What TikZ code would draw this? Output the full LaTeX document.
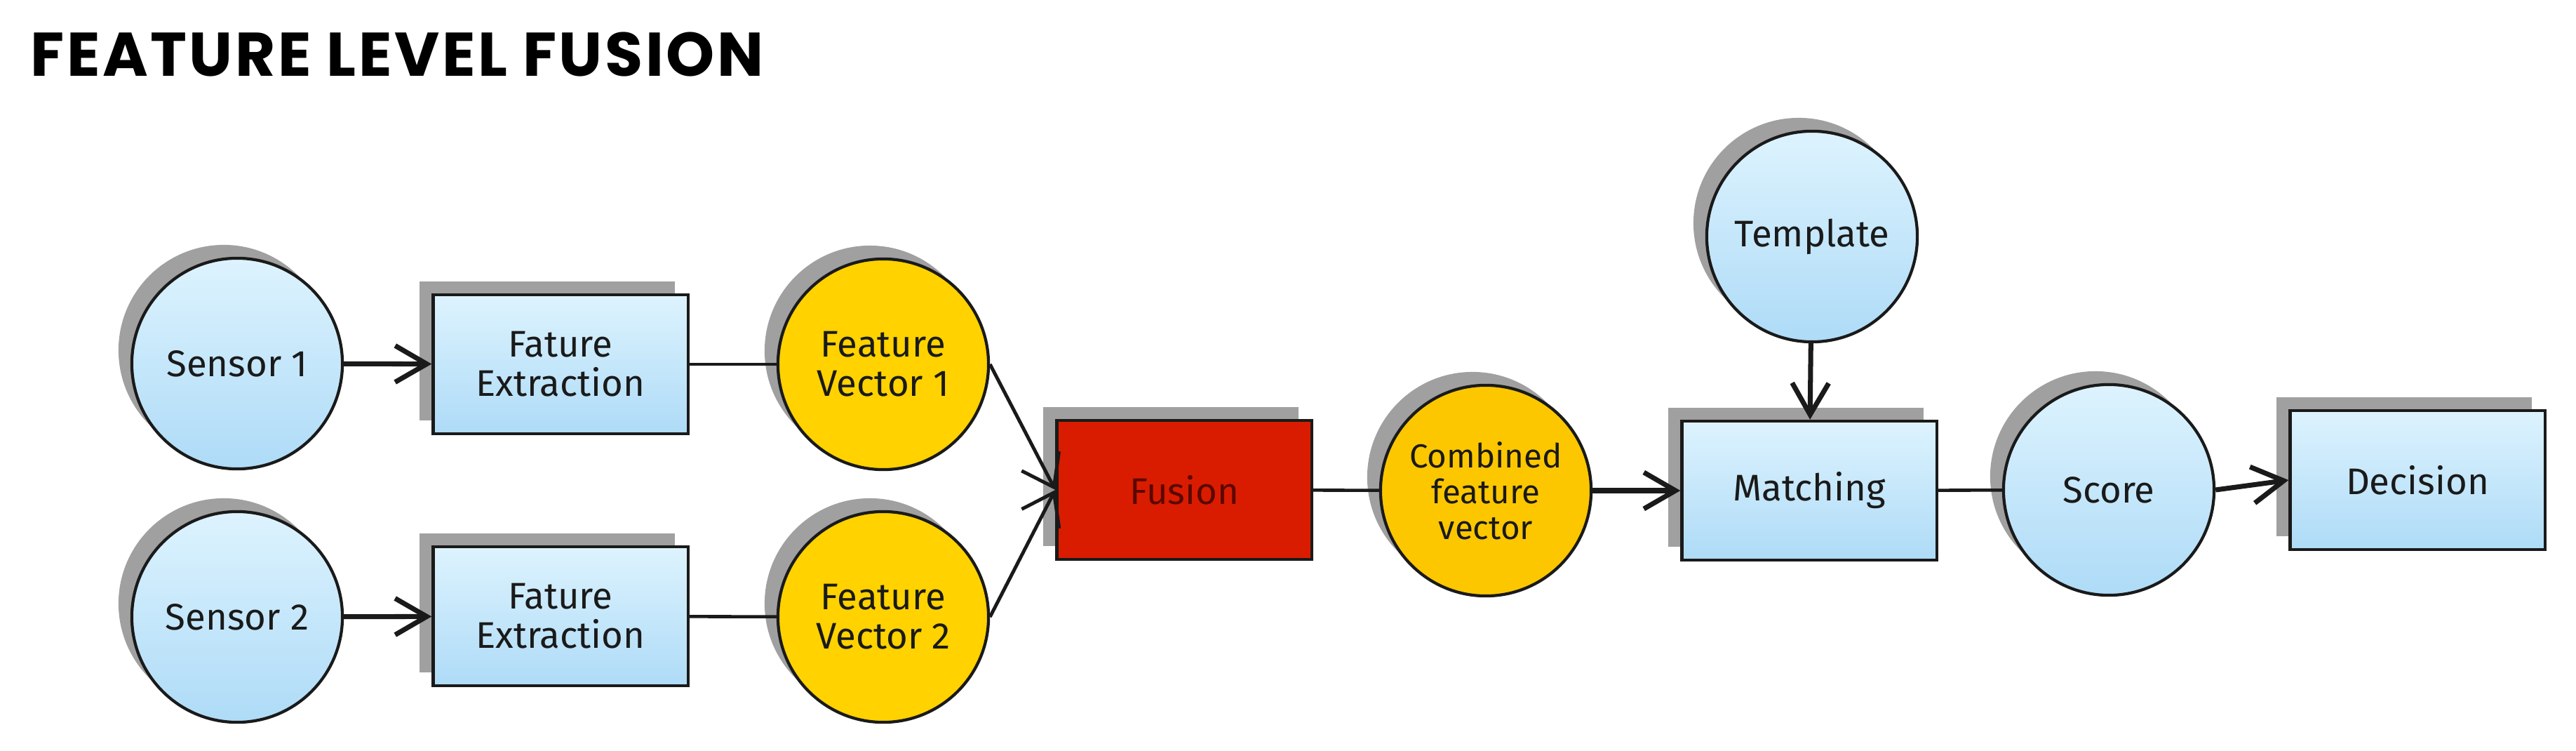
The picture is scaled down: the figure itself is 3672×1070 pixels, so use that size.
\documentclass[tikz,border=0pt]{standalone}
\usepackage{fontspec}
\setmainfont{Fira Sans}
\newfontfamily\titlefont{Poppins}[LetterSpace=4]
\usetikzlibrary{shadows,arrows.meta}
\definecolor{skytop}{HTML}{DDF3FE}
\definecolor{skybot}{HTML}{AEDBF7}
\definecolor{vecyellow}{HTML}{FFD200}
\definecolor{combyellow}{HTML}{FDC700}
\definecolor{fusred}{HTML}{D91C00}
\definecolor{fustext}{HTML}{5A0800}
\definecolor{shadowgray}{HTML}{A0A0A0}
\definecolor{ink}{HTML}{1A1A1A}

\begin{document}
\begin{tikzpicture}[x=0.01cm,y=-0.01cm,
  every node/.style={font=\fontsize{15}{16}\selectfont, align=center, text=ink},
  shadowed/.style={drop shadow={shadow xshift=-0.19cm, shadow yshift=0.19cm,
      fill=shadowgray, opacity=1}},
  disc/.style={circle, draw=ink, line width=1.2pt, minimum size=3cm, inner sep=0pt, shadowed},
  skydisc/.style={disc, top color=skytop, bottom color=skybot},
  vecdisc/.style={disc, fill=vecyellow},
  block/.style={rectangle, draw=ink, line width=1.2pt, minimum width=3.63cm,
      minimum height=1.98cm, inner sep=0pt, shadowed},
  skyblock/.style={block, top color=skytop, bottom color=skybot},
  link/.style={draw=ink, line width=1.3pt},
  bigarrow/.style={draw=ink, line width=2pt, -{Straight Barb[length=0.45cm,width=0.52cm]}},
  smallarrow/.style={draw=ink, line width=1.4pt, -{Straight Barb[length=0.42cm,width=0.6cm]}}]
  \useasboundingbox (0,0) rectangle (3672,1070);
  \fill[white] (0,0) rectangle (3672,1070);
  \node[anchor=base west, text=black, font=\titlefont\fontsize{25}{29}\selectfont\bfseries] (title) at (31,109) {FEATURE LEVEL FUSION};
  \node[skydisc] (s1) at (338,518) {Sensor 1};
  \node[skydisc] (s2) at (338,879) {Sensor 2};
  \node[skyblock] (fe1) at (799,519) {Fature\\Extraction};
  \node[skyblock] (fe2) at (799,878) {Fature\\Extraction};
  \node[vecdisc] (fv1) at (1259,519) {Feature\\Vector 1};
  \node[vecdisc] (fv2) at (1259,879) {Feature\\Vector 2};
  \node[block, fill=fusred, text=fustext] (fus) at (1688,698) {Fusion};
  \node[disc, fill=combyellow, font=\fontsize{13.5}{14.5}\selectfont] (cfv) at (2118,699) {Combined\\feature\\vector};
  \node[skydisc] (tpl) at (2583,337) {Template};
  \node[skyblock] (mat) at (2579,699) {Matching};
  \node[skydisc] (sc) at (3006,698) {Score};
  \node[skyblock] (dec) at (3446,684) {Decision};
  \draw[bigarrow] (s1)--(fe1);
  \draw[bigarrow] (s2)--(fe2);
  \draw[link] (fe1)--(fv1);
  \draw[link] (fe2)--(fv2);
  \draw[smallarrow] (fv1.east)--(fus.west);
  \draw[smallarrow] (fv2.east)--(fus.west);
  \draw[link] (fus)--(cfv);
  \draw[bigarrow] (cfv)--(mat);
  \draw[bigarrow] (tpl)--(mat);
  \draw[link] (mat)--(sc);
  \draw[bigarrow] (sc.east)--(dec.west);
\end{tikzpicture}
\end{document}
